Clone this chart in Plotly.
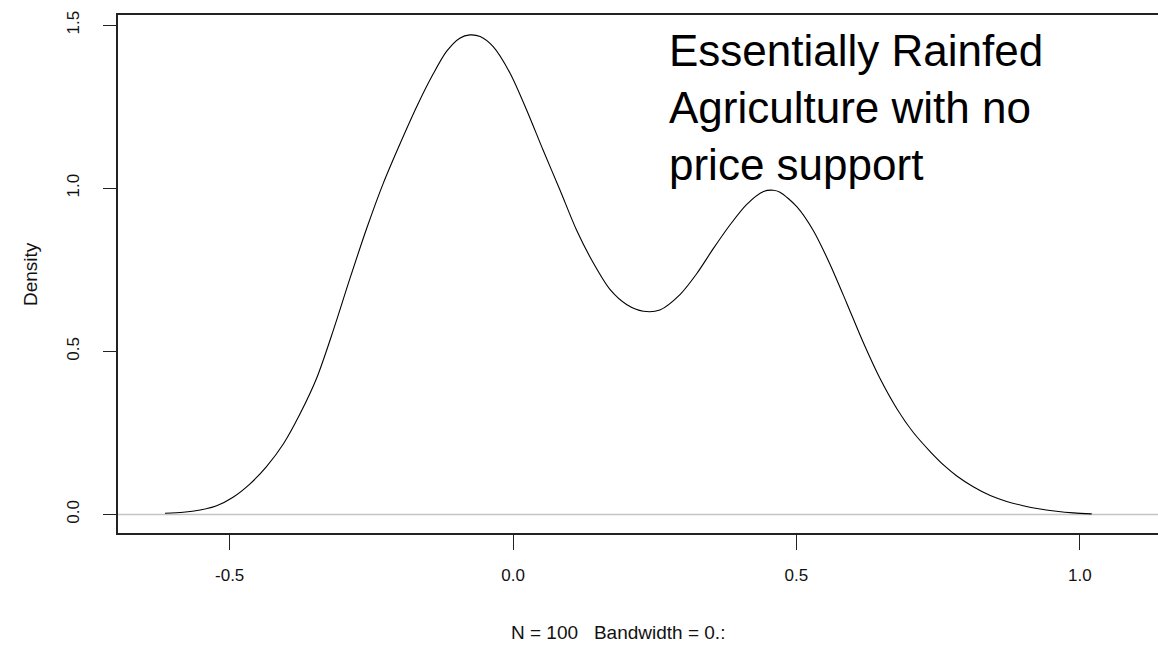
import plotly.graph_objects as go

# Kernel density estimate (N = 100), sampled along the curve
x_vals = [-0.614, -0.582, -0.552, -0.523, -0.494, -0.464, -0.435, -0.405, -0.376, -0.346,
          -0.317, -0.288, -0.258, -0.229, -0.199, -0.170, -0.141, -0.117, -0.094, -0.076,
          -0.058, -0.035, -0.005, 0.024, 0.053, 0.083, 0.112, 0.142, 0.171, 0.201,
          0.230, 0.259, 0.295, 0.324, 0.353, 0.383, 0.412, 0.442, 0.459, 0.471,
          0.501, 0.530, 0.559, 0.589, 0.618, 0.648, 0.677, 0.706, 0.736, 0.762,
          0.783, 0.812, 0.842, 0.871, 0.900, 0.930, 0.959, 0.989, 1.021]
density = [0.004, 0.007, 0.014, 0.027, 0.053, 0.094, 0.147, 0.217, 0.308, 0.420,
           0.565, 0.722, 0.878, 1.015, 1.138, 1.250, 1.350, 1.420, 1.460, 1.470,
           1.465, 1.434, 1.352, 1.240, 1.117, 0.994, 0.872, 0.770, 0.690, 0.643,
           0.623, 0.627, 0.675, 0.738, 0.814, 0.888, 0.950, 0.990, 0.994, 0.988,
           0.943, 0.870, 0.768, 0.647, 0.527, 0.415, 0.325, 0.252, 0.193, 0.148,
           0.118, 0.085, 0.058, 0.040, 0.027, 0.017, 0.010, 0.005, 0.002]

x_ticks = [-0.5, 0.0, 0.5, 1.0]
x_tick_labels = ["-0.5", "0.0", "0.5", "1.0"]
y_ticks = [0.0, 0.5, 1.0, 1.5]
y_tick_labels = ["0.0", "0.5", "1.0", "1.5"]

note_text = "Essentially Rainfed<br>Agriculture with no<br>price support"
sub_text = "N = 100   Bandwidth = 0.:"

FONT = "Liberation Sans, Arial, sans-serif"

fig = go.Figure()
fig.add_trace(go.Scatter(
    x=x_vals, y=density, mode="lines",
    line=dict(color="black", width=1.1, shape="spline", smoothing=0.8),
    hoverinfo="skip", showlegend=False,
))

# horizontal reference line at zero density
fig.add_shape(type="line", xref="paper", yref="y", x0=0, x1=1, y0=0, y1=0,
              line=dict(color="#c4c4c4", width=1.5), layer="below")

fig.update_xaxes(
    range=[-0.697, 1.138], tickvals=x_ticks, ticktext=x_tick_labels,
    showgrid=False, zeroline=False, showline=True, linecolor="#222", linewidth=1.5,
    mirror=True, ticks="outside", ticklen=15, tickwidth=1.2, tickcolor="#222",
    tickfont=dict(family=FONT, size=17, color="#111"), ticklabelstandoff=11,
)
fig.update_yaxes(
    range=[-0.0567, 1.531], tickvals=y_ticks, ticktext=y_tick_labels,
    showgrid=False, zeroline=False, showline=True, linecolor="#222", linewidth=1.5,
    ticks="outside", ticklen=13, tickwidth=1.2, tickcolor="#222", tickangle=-90,
    tickfont=dict(family=FONT, size=17, color="#111"), ticklabelstandoff=17,
)

fig.add_annotation(text=note_text, xref="x", yref="y", x=0.2717, y=1.249,
                   xanchor="left", yanchor="middle", align="left", showarrow=False,
                   font=dict(family=FONT, size=44, color="black"))
fig.add_annotation(text="Density", xref="paper", yref="paper", x=-0.0846, y=0.5,
                   xanchor="center", yanchor="middle", textangle=-90, showarrow=False,
                   font=dict(family=FONT, size=19, color="#111"))
fig.add_annotation(text=sub_text, xref="paper", yref="paper", x=0.481, y=-0.193,
                   xanchor="center", yanchor="middle", showarrow=False,
                   font=dict(family=FONT, size=19, color="#111"))

fig.update_layout(
    width=1158, height=645,
    margin=dict(l=118, r=0, t=15, b=112),
    paper_bgcolor="white", plot_bgcolor="white",
)

fig.write_html("out.html")
